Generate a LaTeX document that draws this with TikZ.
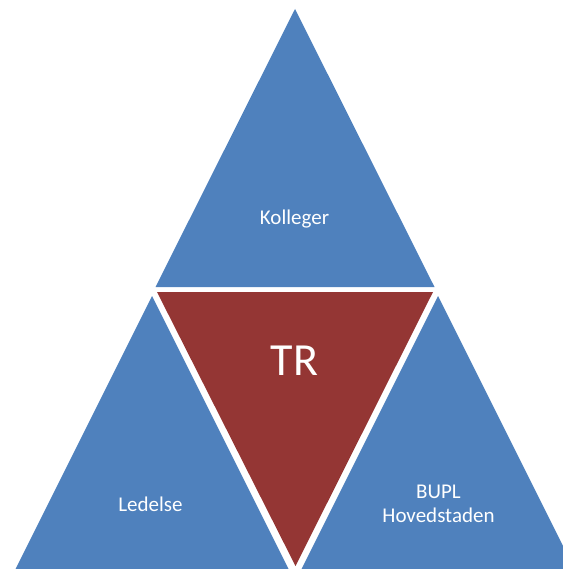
\documentclass[tikz,border=0pt]{standalone}
\usepackage{fontspec}
\setmainfont{Carlito}
\definecolor{triblue}{HTML}{4F81BD}
\definecolor{trired}{HTML}{943634}
\tikzset{
  bluetri/.style={fill=triblue},
  redtri/.style={fill=trired},
  lbl/.style={text=white, anchor=base, inner sep=0pt, font=\fontsize{21}{24}\selectfont, align=center},
  biglbl/.style={text=white, anchor=base, inner sep=0pt, font=\fontsize{46}{50}\selectfont}
}
\begin{document}
\begin{tikzpicture}[x=1pt,y=-1pt]
\useasboundingbox (0,0) rectangle (562,569);
% top
\fill[bluetri] (295,9) -- (434.5,287) -- (155.5,287) -- cycle;
% center red
\fill[redtri] (157,292) -- (433,292) -- (295.5,566) -- cycle;
% bottom left
\fill[bluetri] (152,296) -- (288.5,569) -- (15.5,569) -- cycle;
% bottom right
\fill[bluetri] (438,296) -- (574.5,569) -- (301.5,569) -- cycle;
\node[lbl] (kolleger) at (294.5,224) {Kolleger};
\node[biglbl] (tr) at (294.5,375) {TR};
\node[lbl] (ledelse) at (150.5,511) {Ledelse};
\node[lbl, anchor=base] (bupl) at (438.5,498.3) {BUPL};
\node[lbl, anchor=base] (hoved) at (438.5,522.3) {Hovedstaden};
\end{tikzpicture}
\end{document}
